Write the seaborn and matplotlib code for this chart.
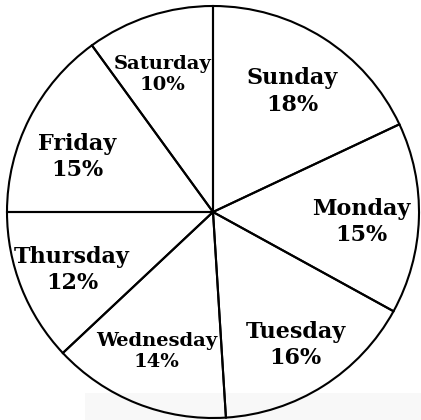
import matplotlib
matplotlib.use("Agg")
import matplotlib.pyplot as plt
import seaborn as sns
import numpy as np

# share of each day (percent), clockwise from the top
days = ["Sunday", "Monday", "Tuesday", "Wednesday", "Thursday", "Friday", "Saturday"]
shares = [18, 15, 16, 14, 12, 15, 10]

sns.set_style("white")
plt.rcParams["font.family"] = ["DejaVu Serif"]

fig = plt.figure(figsize=(4.21, 4.20), dpi=100)
ax = fig.add_axes([0, 0, 1, 1])

wedges, _ = ax.pie(shares, startangle=90, counterclock=False, radius=1.0,
                   wedgeprops=dict(facecolor="none", edgecolor="black", linewidth=1.5, zorder=2))

# faint grey band at the bottom right
ax.add_patch(plt.Rectangle((85 / 421, 0), 1, 27 / 420, transform=ax.transAxes,
                           facecolor="#f8f8f8", edgecolor="none", zorder=1))

# label placement: distance from centre and small angle nudge per slice
label_r = [0.70, 0.72, 0.76, 0.73, 0.74, 0.71, 0.71]
label_dt = [-1, -2, -0.5, -0.3, 0.8, 5, 2]
small = {"Saturday", "Wednesday"}
for w, d, s, r, dt in zip(wedges, days, shares, label_r, label_dt):
    ang = np.deg2rad((w.theta1 + w.theta2) / 2 + dt)
    ax.text(r * np.cos(ang), r * np.sin(ang), f"{d}\n{s}%", ha="center", va="center",
            color="black", fontsize=14 if d in small else 16, fontweight="bold",
            linespacing=1.25, zorder=3)

ax.set_xlim(-213 / 206, 208 / 206)
ax.set_ylim(-208 / 206, 212 / 206)
ax.set_aspect("auto")
ax.axis("off")

fig.savefig("out.png", dpi=100)
